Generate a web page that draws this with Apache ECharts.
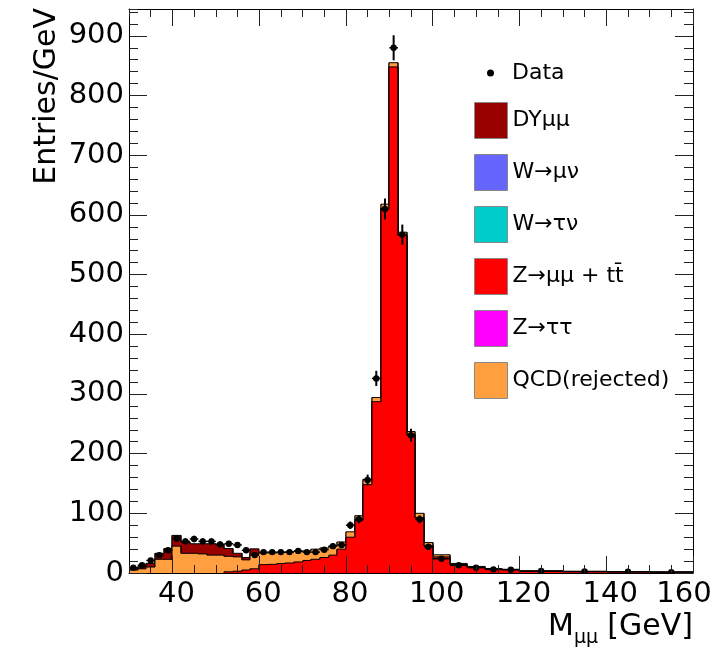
<!DOCTYPE html>
<html>
<head>
<meta charset="utf-8">
<script src="https://cdn.jsdelivr.net/npm/echarts@6/dist/echarts.min.js"></script>
<style>html,body{margin:0;padding:0;background:#fff}#c{width:723px;height:655px}</style>
</head>
<body>
<div id="c"></div>
<script>
// Bin edges in GeV (variable binning)
const binEdges = [30,32,34,36,38,40,42,44,46,48,50,52,54,56,58,60,62,64,66,68,70,72,74,76,78,80,82,84,86,88,90,92,94,96,98,100,104,108,112,116,120,130,140,150,160];
// Entries/GeV per bin, per component
const zmumuVals = [0,0,0,0,0,0,0,0,0,0,0,2,3,5,7,14,14.5,15.8,16.8,18.5,21,23,26,30,40,60,88,148,287,611,848,566,232,93,46,27,14,9.5,6.5,5.5,3,2.3,1.8,1.4];
const ztautauVals = [0,0,0,0,0,0,0,0,0,0,0,0,0,0,0,0,0,0,0,0,0,0,0,0,0,0,0,0,0,0,0,0,0,0,0,0,0,0,0,0,0,0,0,0];
const wtaunuVals = [0,0,0,0,0,0,0,0,0,0,0,0,0,0,0,0,0,0,0,0,0,0,0,0,0,0,0,0,0,0,0,0,0,0,0,0,0,0,0,0,0,0,0,0];
const wmunuVals = [0,0,0,0,0,0,0,0,0,0,0,0,0,0,0,0,0,0,0,0,0,0,0,0,0,0,0,0,0,0,0,0,0,0,0,0,0,0,0,0,0,0,0,0];
const qcdVals = [5,7,10,23,23,45,33,33,32,30,30,26,24,17,24.5,19.6,19.1,18.7,18.4,18,16,17,16,15,12,9,8,9,7,7,7,5,5,7,5,3.5,2,1.5,1,0.7,0.4,0.3,0.2,0.2];
const dyVals = [3,4,6,10,18,18,19,16,17,19,18,13,6,4,9,0,0,0,0,0,0,0,0,0,0,0,0,0,0,0,0,0,0,0,0,0,0,0,0,0,0,0,0,0];
const dataVals = [9,13,21,30,38,58,53,57,53,53,48,49,47,38,30,35,35,35,35,37,35,35,39,45,47,80,90,156,326,610,880,567,231,90,44,24,13,9,6,5.5,3.5,2.5,2,1.5];
// Axis ticks
const xMajorTicks = [40,60,80,100,120,140,160];
const yMajorTicks = [0,100,200,300,400,500,600,700,800,900];

const FONT = '"DejaVu Sans", sans-serif';
const nBins = binEdges.length - 1;

// stacking order bottom -> top
const components = [
  {name:'Z\u2192\u03bc\u03bc + tt\u0304', color:'#ff0000', vals:zmumuVals},
  {name:'Z\u2192\u03c4\u03c4', color:'#ff00ff', vals:ztautauVals},
  {name:'W\u2192\u03c4\u03bd', color:'#00cccc', vals:wtaunuVals},
  {name:'W\u2192\u03bc\u03bd', color:'#6666ff', vals:wmunuVals},
  {name:'QCD(rejected)', color:'#ff9f40', vals:qcdVals},
  {name:'DY\u03bc\u03bc', color:'#990000', vals:dyVals}
];
let running = new Array(nBins).fill(0);
components.forEach(c => {
  c.cum = c.vals.map((v,i) => running[i] + v);
  running = c.cum.slice();
});

function histSeries(c) {
  const data = c.cum.map((v,i) => [binEdges[i], binEdges[i+1], v,
    i > 0 ? c.cum[i-1] : 0, i < nBins-1 ? c.cum[i+1] : 0, c.vals[i]]);
  return {
    type:'custom', name:c.name, xAxisIndex:0, yAxisIndex:0, clip:true,
    itemStyle:{color:c.color},
    encode:{x:[0,1], y:2},
    data:data,
    renderItem:function(params, api){
      const own = api.value(5);
      if (!(own > 0)) return null;
      const x0 = api.value(0), x1 = api.value(1), top = api.value(2), prev = api.value(3), next = api.value(4);
      const pb = api.coord([x0, 0]), pt = api.coord([x1, top]);
      const px0 = Math.round(pb[0]), px1 = Math.round(pt[0]);
      const yb = pb[1], yt = pt[1];
      const yPrev = api.coord([x0, prev])[1], yNext = api.coord([x1, next])[1];
      return {type:'group', children:[
        {type:'rect', shape:{x:px0, y:yt, width:px1-px0, height:yb-yt}, style:{fill:c.color}},
        {type:'polyline', shape:{points:[[px0,yPrev],[px0,yt],[px1,yt],[px1,yNext]]},
          style:{stroke:'#000', lineWidth:1, fill:null}}
      ]};
    }
  };
}

const series = [];
for (let k = components.length-1; k >= 0; k--) series.push(histSeries(components[k]));

series.push({
  type:'custom', name:'Data', xAxisIndex:0, yAxisIndex:0, clip:true, z:5,
  itemStyle:{color:'#000'},
  encode:{x:[0,1], y:2},
  data: dataVals.map((v,i) => {
    const w = binEdges[i+1]-binEdges[i];
    return [binEdges[i], binEdges[i+1], v, Math.sqrt(v*w)/w];
  }),
  renderItem:function(params, api){
    const x0 = api.value(0), x1 = api.value(1), v = api.value(2), e = api.value(3);
    const c = (x0+x1)/2;
    const pc = api.coord([c, v]), plo = api.coord([c, v-e]), phi = api.coord([c, v+e]);
    const pl = api.coord([x0, v]), pr = api.coord([x1, v]);
    return {type:'group', children:[
      {type:'line', shape:{x1:pc[0], y1:plo[1], x2:pc[0], y2:phi[1]}, style:{stroke:'#000', lineWidth:2}},
      {type:'line', shape:{x1:pl[0], y1:pc[1], x2:pr[0], y2:pc[1]}, style:{stroke:'#000', lineWidth:1.5}},
      {type:'circle', shape:{cx:pc[0], cy:pc[1], r:3.2}, style:{fill:'#000'}}
    ]};
  }
});

function xAx(pos, major, labels) {
  return {
    type:'value', min:30, max:160, position:pos, z:10,
    interval: major ? undefined : 5,
    axisLine:{show:major, onZero:false, lineStyle:{color:'#000', width:1}},
    splitLine:{show:false},
    axisTick:{show:true, inside:true, length: major ? 17 : 8,
      customValues: major ? xMajorTicks : undefined, lineStyle:{color:'#222', width:1}},
    axisLabel: labels ? {show:true, customValues:xMajorTicks, margin:7,
      color:'#000', fontFamily:FONT, fontSize:29,
      formatter: v => v === 160 ? '{l|160}' : '{n|' + v + '}',
      rich:{n:{fontFamily:FONT, fontSize:29, color:'#000', padding:[0,0,0,8]},
            l:{fontFamily:FONT, fontSize:29, color:'#000', padding:[0,18,0,0]}}} : {show:false}
  };
}
function yAx(pos, major, labels) {
  return {
    type:'value', min:0, max:945, position:pos, z:10,
    interval: major ? undefined : 20,
    axisLine:{show:major, onZero:false, lineStyle:{color:'#000', width:1}},
    splitLine:{show:false},
    axisTick:{show:true, inside:true, length: major ? 18 : 9,
      customValues: major ? yMajorTicks : undefined, lineStyle:{color:'#222', width:1}},
    axisLabel: labels ? {show:true, customValues:yMajorTicks, margin:5,
      color:'#000', fontFamily:FONT, fontSize:29} : {show:false}
  };
}

const chart = echarts.init(document.getElementById('c'), null, {renderer:'canvas'});
chart.setOption({
  animation:false,
  backgroundColor:'#fff',
  grid:{left:129, top:9, width:564, height:564},
  xAxis:[xAx('bottom', true, true), xAx('bottom', false, false), xAx('top', true, false), xAx('top', false, false)],
  yAxis:[yAx('left', true, true), yAx('left', false, false), yAx('right', true, false), yAx('right', false, false)],
  legend:[
    {data:[{name:'Data', icon:'circle'}], left:487, top:62, orient:'vertical', padding:0,
     itemWidth:33, itemHeight:7, textStyle:{fontFamily:FONT, fontSize:22, color:'#000', lineHeight:22, verticalAlign:'middle'}},
    {data:['DY\u03bc\u03bc','W\u2192\u03bc\u03bd','W\u2192\u03c4\u03bd','Z\u2192\u03bc\u03bc + tt\u0304','Z\u2192\u03c4\u03c4','QCD(rejected)'],
     left:474, top:102, orient:'vertical', padding:0, itemWidth:33, itemHeight:36, itemGap:15, icon:'rect',
     itemStyle:{borderColor:'#888', borderWidth:1},
     textStyle:{fontFamily:FONT, fontSize:22, color:'#000'}}
  ],
  graphic:[
    {type:'text', x:47, y:8, rotation:Math.PI/2,
     style:{text:'Entries/GeV', font:'30px ' + FONT, fill:'#000', align:'right', verticalAlign:'middle', textAlign:'right', textVerticalAlign:'middle'}},
    {type:'text', x:548, y:627, style:{text:'M', font:'30px ' + FONT, fill:'#000', align:'left', verticalAlign:'middle', textAlign:'left', textVerticalAlign:'middle'}},
    {type:'text', x:574, y:638, style:{text:'\u03bc\u03bc', font:'19px ' + FONT, fill:'#000', align:'left', verticalAlign:'middle', textAlign:'left', textVerticalAlign:'middle'}},
    {type:'text', x:693, y:627, style:{text:' [GeV]', font:'30px ' + FONT, fill:'#000', align:'right', verticalAlign:'middle', textAlign:'right', textVerticalAlign:'middle'}}
  ],
  series:series
});
</script>
</body>
</html>
